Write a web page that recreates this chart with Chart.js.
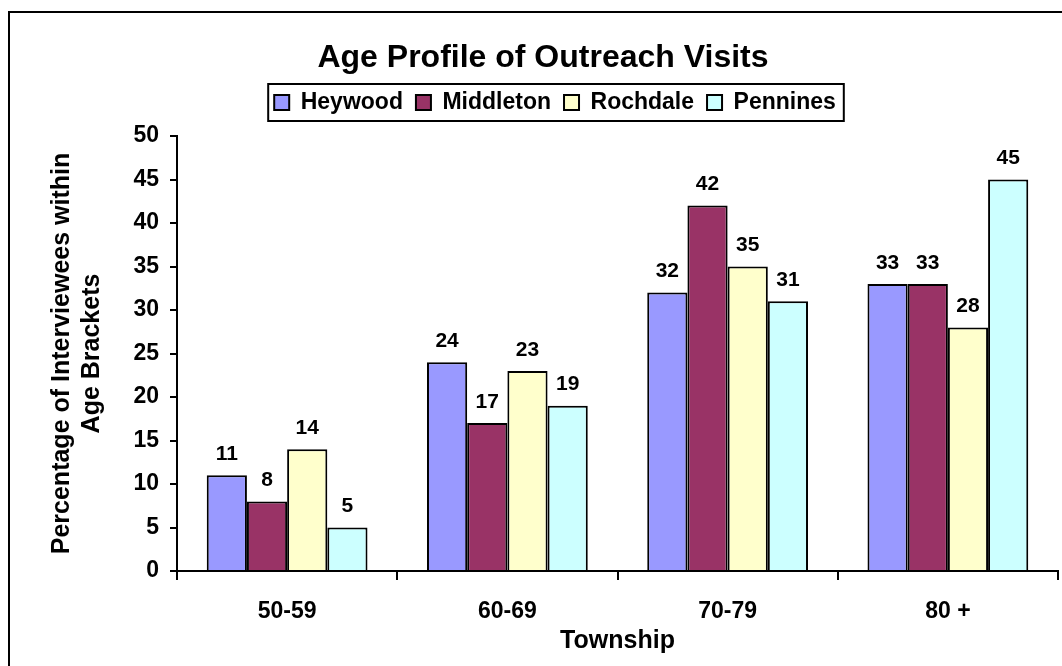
<!DOCTYPE html>
<html>
<head>
<meta charset="utf-8">
<style>
  html, body { margin: 0; padding: 0; background: #fff; }
  #wrap { width: 1062px; height: 666px; }
</style>
<script src="https://cdn.jsdelivr.net/npm/chart.js"></script>
</head>
<body>
<div id="wrap"><canvas id="ageChart" width="1062" height="666"></canvas></div>
<script>
const ageBrackets = ['50-59', '60-69', '70-79', '80 +'];
const heywood = [11, 24, 32, 33];
const middleton = [8, 17, 42, 33];
const rochdale = [14, 23, 35, 28];
const pennines = [5, 19, 31, 45];
const yTicks = [0, 5, 10, 15, 20, 25, 30, 35, 40, 45, 50];

const FONT = '"Liberation Sans", Arial, sans-serif';

// outer frame of the picture
const framePlugin = {
    id: 'frame',
    beforeDraw(chart) {
        const ctx = chart.ctx;
        ctx.save();
        ctx.strokeStyle = '#000';
        ctx.lineWidth = 2;
        ctx.strokeRect(9, 12, 1200, 800);
        ctx.restore();
    }
};

// extra room under the legend
const legendGapPlugin = {
    id: 'legendGap',
    beforeLayout(chart) {
        const lg = chart.legend;
        if (lg && !lg._gapPatched) {
            const fit = lg.fit;
            lg.fit = function () {
                fit.call(this);
                this.height += 12;
            };
            lg._gapPatched = true;
        }
    }
};

// nudge title and legend sideways, like the original
const nudgePlugin = {
    id: 'nudge',
    afterLayout(chart) {
        chart.titleBlock.left += 14;
        chart.titleBlock.right += 14;
        chart.legend.left += 26;
        chart.legend.right += 26;
    }
};

// box around the legend
const legendBoxPlugin = {
    id: 'legendBox',
    afterDraw(chart) {
        const boxes = chart.legend.legendHitBoxes;
        if (!boxes || !boxes.length) return;
        const first = boxes[0];
        const last = boxes[boxes.length - 1];
        const ctx = chart.ctx;
        ctx.save();
        ctx.strokeStyle = '#000';
        ctx.lineWidth = 2;
        ctx.strokeRect(first.left - 6, first.top - 7, last.left + last.width - first.left + 14, first.height + 14);
        ctx.restore();
    }
};

// value labels above bars
const valueLabels = {
    id: 'valueLabels',
    afterDatasetsDraw(chart) {
        const ctx = chart.ctx;
        ctx.save();
        ctx.font = 'bold 21px ' + FONT;
        ctx.fillStyle = '#000';
        ctx.textAlign = 'center';
        ctx.textBaseline = 'middle';
        chart.data.datasets.forEach((ds, i) => {
            chart.getDatasetMeta(i).data.forEach((bar, j) => {
                ctx.fillText(ds.data[j], bar.x, bar.y - 21);
            });
        });
        ctx.restore();
    }
};

const makeSet = (label, data, color) => ({
    label: label,
    data: data,
    backgroundColor: color,
    borderColor: '#000',
    borderWidth: 2,
    barPercentage: 1.0,
    categoryPercentage: 0.73
});

new Chart(document.getElementById('ageChart').getContext('2d'), {
    type: 'bar',
    data: {
        labels: ageBrackets,
        datasets: [
            makeSet('Heywood', heywood, '#9999FF'),
            makeSet('Middleton', middleton, '#993366'),
            makeSet('Rochdale', rochdale, '#FFFFCC'),
            makeSet('Pennines', pennines, '#CCFFFF')
        ]
    },
    options: {
        responsive: false,
        animation: false,
        layout: { padding: { left: 0, right: 4, top: 30, bottom: 10 } },
        plugins: {
            title: {
                display: true,
                text: 'Age Profile of Outreach Visits',
                color: '#000',
                font: { family: FONT, size: 32, weight: 'bold', lineHeight: 1.2 },
                padding: { top: 6, bottom: 1 }
            },
            legend: {
                display: true,
                labels: {
                    color: '#000',
                    font: { family: FONT, size: 23, weight: 'bold' },
                    boxWidth: 15,
                    boxHeight: 15,
                    padding: 13
                }
            },
            tooltip: { enabled: false }
        },
        scales: {
            x: {
                afterFit(axis) { axis.height = 85; },
                grid: {
                    display: true,
                    drawOnChartArea: false,
                    drawTicks: true,
                    tickLength: 9,
                    color: '#000',
                    lineWidth: 2
                },
                border: { display: true, color: '#000', width: 2 },
                ticks: {
                    color: '#000',
                    font: { family: FONT, size: 23, weight: 'bold' },
                    padding: 18
                },
                title: {
                    display: true,
                    text: 'Township',
                    color: '#000',
                    font: { family: FONT, size: 25, weight: 'bold', lineHeight: 1.2 },
                    padding: { top: 0, bottom: 0 }
                }
            },
            y: {
                min: 0,
                max: 50,
                afterBuildTicks(axis) {
                    axis.ticks = yTicks.map(v => ({ value: v }));
                },
                afterFit(axis) {
                    axis.width = 177;
                    axis.paddingTop = 136;
                },
                grid: {
                    display: true,
                    drawOnChartArea: false,
                    drawTicks: true,
                    tickLength: 7,
                    color: '#000',
                    lineWidth: 2
                },
                border: { display: true, color: '#000', width: 2 },
                ticks: {
                    color: '#000',
                    font: { family: FONT, size: 23, weight: 'bold' },
                    padding: 11
                },
                title: {
                    display: true,
                    text: ['Percentage of Interviewees within', 'Age Brackets'],
                    color: '#000',
                    font: { family: FONT, size: 25, weight: 'bold', lineHeight: 1.2 },
                    padding: { top: 47, bottom: 0 }
                }
            }
        }
    },
    plugins: [framePlugin, legendGapPlugin, nudgePlugin, legendBoxPlugin, valueLabels]
});
</script>
</body>
</html>
